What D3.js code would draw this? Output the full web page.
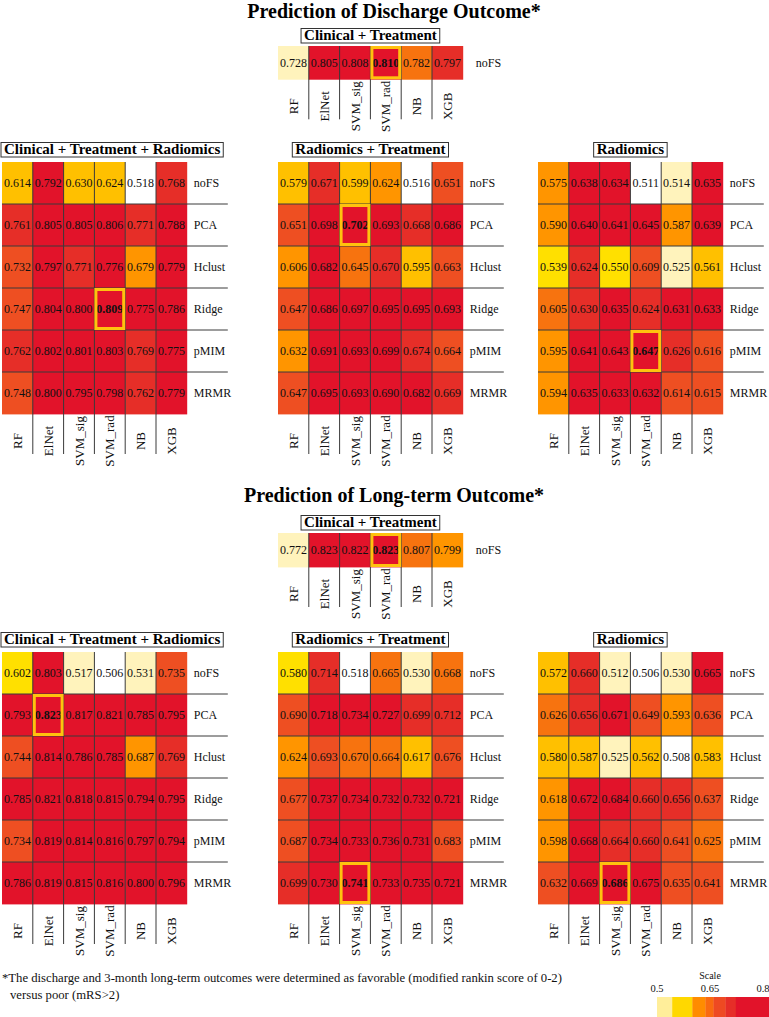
<!DOCTYPE html>
<html><head><meta charset="utf-8">
<script src="https://cdn.jsdelivr.net/npm/d3@7"></script>
<style>
html,body{margin:0;padding:0;background:#fff;}
svg{display:block;font-family:"Liberation Serif","Times New Roman",serif;}
</style>
</head><body>
<svg id="chart" width="769" height="1017"></svg>
<script>
// ---------- DATA ----------
const models = ["RF", "ElNet", "SVM_sig", "SVM_rad", "NB", "XGB"];
const featSel = ["noFS", "PCA", "Hclust", "Ridge", "pMIM", "MRMR"];
const topRows = ["noFS"];

const sectionTitles = ["Prediction of Discharge Outcome*", "Prediction of Long-term Outcome*"];
const panelTitles = ["Clinical + Treatment", "Clinical + Treatment + Radiomics", "Radiomics + Treatment", "Radiomics"];

// Discharge outcome
const disClinTreat = [[0.728, 0.805, 0.808, 0.810, 0.782, 0.797]];
const disClinTreatRad = [
  [0.614, 0.792, 0.630, 0.624, 0.518, 0.768],
  [0.761, 0.805, 0.805, 0.806, 0.771, 0.788],
  [0.732, 0.797, 0.771, 0.776, 0.679, 0.779],
  [0.747, 0.804, 0.800, 0.809, 0.775, 0.786],
  [0.762, 0.802, 0.801, 0.803, 0.769, 0.775],
  [0.748, 0.800, 0.795, 0.798, 0.762, 0.779]
];
const disRadTreat = [
  [0.579, 0.671, 0.599, 0.624, 0.516, 0.651],
  [0.651, 0.698, 0.702, 0.693, 0.668, 0.686],
  [0.606, 0.682, 0.645, 0.670, 0.595, 0.663],
  [0.647, 0.686, 0.697, 0.695, 0.695, 0.693],
  [0.632, 0.691, 0.693, 0.699, 0.674, 0.664],
  [0.647, 0.695, 0.693, 0.690, 0.682, 0.669]
];
const disRad = [
  [0.575, 0.638, 0.634, 0.511, 0.514, 0.635],
  [0.590, 0.640, 0.641, 0.645, 0.587, 0.639],
  [0.539, 0.624, 0.550, 0.609, 0.525, 0.561],
  [0.605, 0.630, 0.635, 0.624, 0.631, 0.633],
  [0.595, 0.641, 0.643, 0.647, 0.626, 0.616],
  [0.594, 0.635, 0.633, 0.632, 0.614, 0.615]
];

// Long-term outcome
const ltClinTreat = [[0.772, 0.823, 0.822, 0.823, 0.807, 0.799]];
const ltClinTreatRad = [
  [0.602, 0.803, 0.517, 0.506, 0.531, 0.735],
  [0.793, 0.823, 0.817, 0.821, 0.785, 0.795],
  [0.744, 0.814, 0.786, 0.785, 0.687, 0.769],
  [0.785, 0.821, 0.818, 0.815, 0.794, 0.795],
  [0.734, 0.819, 0.814, 0.816, 0.797, 0.794],
  [0.786, 0.819, 0.815, 0.816, 0.800, 0.796]
];
const ltRadTreat = [
  [0.580, 0.714, 0.518, 0.665, 0.530, 0.668],
  [0.690, 0.718, 0.734, 0.727, 0.699, 0.712],
  [0.624, 0.693, 0.670, 0.664, 0.617, 0.676],
  [0.677, 0.737, 0.734, 0.732, 0.732, 0.721],
  [0.687, 0.734, 0.733, 0.736, 0.731, 0.683],
  [0.699, 0.730, 0.741, 0.733, 0.735, 0.721]
];
const ltRad = [
  [0.572, 0.660, 0.512, 0.506, 0.530, 0.665],
  [0.626, 0.656, 0.671, 0.649, 0.593, 0.636],
  [0.580, 0.587, 0.525, 0.562, 0.508, 0.583],
  [0.618, 0.672, 0.684, 0.660, 0.656, 0.637],
  [0.598, 0.668, 0.664, 0.660, 0.641, 0.625],
  [0.632, 0.669, 0.686, 0.675, 0.635, 0.641]
];

// colour steps (per-panel relative scale)
const colorSteps = ["#FFFFFF", "#FFF3BC", "#FFE000", "#FFC000", "#FF9500", "#F7730F", "#EE4F22", "#E62E28", "#E2132A"];
const colorFracs = [0.02, 0.15, 0.31, 0.455, 0.63, 0.70, 0.80, 0.88];

// legend
const legendTitle = "Scale";
const legendTicks = [0.5, 0.65, 0.8];
const legendBreaks = [0.5, 0.543, 0.6, 0.637, 0.66, 0.694, 0.723, 0.82];
const legendColors = ["#FFEE9A", "#FFD800", "#FF8C00", "#F96A10", "#EE4A22", "#E62E28", "#E2132A"];

const footnote = [
  "*The discharge and 3-month long-term outcomes were determined as favorable (modified rankin score of 0-2)",
  "versus poor (mRS>2)"
];

// ---------- LAYOUT ----------
const W = 769, H = 1017;
const CW = 30.8;
const panels = [
  { data: disClinTreat,    rows: topRows, title: panelTitles[0], x0: 278, top: 46,  h: 33.3, rdx: 13, boxGap: 3 },
  { data: disClinTreatRad, rows: featSel, title: panelTitles[1], x0: 2,   top: 162, h: 42,   rdx: 7,  boxGap: 5 },
  { data: disRadTreat,     rows: featSel, title: panelTitles[2], x0: 278, top: 162, h: 42,   rdx: 7,  boxGap: 5 },
  { data: disRad,          rows: featSel, title: panelTitles[3], x0: 538, top: 162, h: 42,   rdx: 7,  boxGap: 5 },
  { data: ltClinTreat,     rows: topRows, title: panelTitles[0], x0: 278, top: 533, h: 34,   rdx: 13, boxGap: 3 },
  { data: ltClinTreatRad,  rows: featSel, title: panelTitles[1], x0: 2,   top: 652, h: 42,   rdx: 7,  boxGap: 5 },
  { data: ltRadTreat,      rows: featSel, title: panelTitles[2], x0: 278, top: 652, h: 42,   rdx: 7,  boxGap: 5 },
  { data: ltRad,           rows: featSel, title: panelTitles[3], x0: 538, top: 652, h: 42,   rdx: 7,  boxGap: 5 }
];

const svg = d3.select("#chart");
svg.append("rect").attr("width", W).attr("height", H).attr("fill", "#fff");

// section titles
svg.selectAll("text.section").data([{t: sectionTitles[0], y: 18}, {t: sectionTitles[1], y: 502}])
  .join("text").attr("class", "section")
  .attr("x", 394).attr("y", d => d.y)
  .attr("text-anchor", "middle")
  .attr("font-size", 20).attr("font-weight", "bold").attr("fill", "#000")
  .text(d => d.t);

function drawPanel(p) {
  const g = svg.append("g");
  const x = d3.scaleBand().domain(models).range([p.x0, p.x0 + CW * models.length]);
  const y = d3.scaleBand().domain(p.rows).range([p.top, p.top + p.h * p.rows.length]);
  const right = p.x0 + CW * models.length;
  const bottom = p.top + p.h * p.rows.length;

  const flat = p.data.flatMap((r, i) => r.map((v, j) => ({ v, row: p.rows[i], col: models[j] })));
  const [mn, mx] = d3.extent(flat, d => d.v);
  const range = p.rows.length > 1 ? colorSteps : colorSteps.map((c, i) => i === 0 ? colorSteps[1] : c);
  const color = d3.scaleThreshold().domain(colorFracs.map(f => mn + f * (mx - mn))).range(range);
  let best = null;
  flat.forEach(d => { if (!best || d.v >= best.v) best = d; });

  // cells
  g.selectAll("rect.cell").data(flat).join("rect").attr("class", "cell")
    .attr("x", d => x(d.col)).attr("y", d => y(d.row))
    .attr("width", x.bandwidth() + 0.4).attr("height", y.bandwidth() + 0.4)
    .attr("fill", d => color(d.v));

  // vertical separators
  g.selectAll("line.v").data(models.slice(1)).join("line").attr("class", "v")
    .attr("x1", d => x(d)).attr("x2", d => x(d))
    .attr("y1", p.top).attr("y2", bottom + 40)
    .attr("stroke", "#3a3a3a").attr("stroke-width", 1);

  // horizontal separators
  g.selectAll("line.h").data(p.rows.slice(1)).join("line").attr("class", "h")
    .attr("x1", p.x0).attr("x2", right + 41)
    .attr("y1", d => y(d)).attr("y2", d => y(d))
    .attr("stroke", "#3a3a3a").attr("stroke-width", 1);

  // values
  g.selectAll("text.val").data(flat).join("text").attr("class", "val")
    .attr("x", d => x(d.col) + x.bandwidth() / 2)
    .attr("y", d => y(d.row) + y.bandwidth() / 2)
    .attr("dy", "0.35em").attr("text-anchor", "middle")
    .attr("font-size", 12).attr("fill", "#111")
    .attr("font-weight", d => d === best ? "bold" : "normal")
    .text(d => d.v.toFixed(3));

  // highlight best
  g.append("rect")
    .attr("x", x(best.col) + 1.5).attr("y", y(best.row) + 1.5)
    .attr("width", x.bandwidth() - 3).attr("height", y.bandwidth() - 3)
    .attr("fill", "none").attr("stroke", "#FFC20E").attr("stroke-width", 3);

  // row labels
  g.selectAll("text.rl").data(p.rows).join("text").attr("class", "rl")
    .attr("x", right + p.rdx).attr("y", d => y(d) + y.bandwidth() / 2)
    .attr("dy", "0.35em").attr("font-size", 12).attr("fill", "#111")
    .text(d => d);

  // column labels
  g.selectAll("text.cl").data(models).join("text").attr("class", "cl")
    .attr("transform", d => `translate(${x(d) + x.bandwidth() / 2},${bottom + 27}) rotate(-90)`)
    .attr("dy", "0.35em").attr("text-anchor", "middle")
    .attr("font-size", 13).attr("fill", "#111")
    .text(d => d);

  // title box
  const tt = g.append("text")
    .attr("font-size", 15).attr("font-weight", "bold").attr("fill", "#000")
    .attr("text-anchor", "middle").text(p.title);
  const tw = tt.node().getComputedTextLength();
  const bw = tw + 6;
  const cx = Math.max((p.x0 + right) / 2, p.x0 - 1 + bw / 2);
  const boxBottom = p.top - p.boxGap;
  tt.attr("x", cx).attr("y", boxBottom - 3.5);
  g.insert("rect", "text")
    .attr("x", cx - bw / 2).attr("y", boxBottom - 14.5)
    .attr("width", bw).attr("height", 14.5)
    .attr("fill", "#fff").attr("stroke", "#333").attr("stroke-width", 1);
}
panels.forEach(drawPanel);

// footnote
svg.selectAll("text.fn").data(footnote).join("text").attr("class", "fn")
  .attr("x", (d, i) => i === 0 ? 2 : 10)
  .attr("y", (d, i) => 982 + i * 17)
  .attr("font-size", 12.7).attr("fill", "#111")
  .text(d => d);

// legend
const lx = d3.scaleLinear().domain([0.5, 0.8]).range([657, 763]);
const lg = svg.append("g");
lg.selectAll("rect").data(legendColors).join("rect")
  .attr("x", (d, i) => lx(legendBreaks[i]))
  .attr("width", (d, i) => lx(legendBreaks[i + 1]) - lx(legendBreaks[i]) + 0.3)
  .attr("y", 997).attr("height", 22)
  .attr("fill", d => d);
lg.selectAll("text.tk").data(legendTicks).join("text").attr("class", "tk")
  .attr("x", d => lx(d)).attr("y", 992)
  .attr("text-anchor", "middle").attr("font-size", 10.5).attr("fill", "#111")
  .text(d => d);
lg.append("text").attr("x", lx(0.65)).attr("y", 979)
  .attr("text-anchor", "middle").attr("font-size", 10).attr("fill", "#111")
  .text(legendTitle);
</script>
</body></html>
